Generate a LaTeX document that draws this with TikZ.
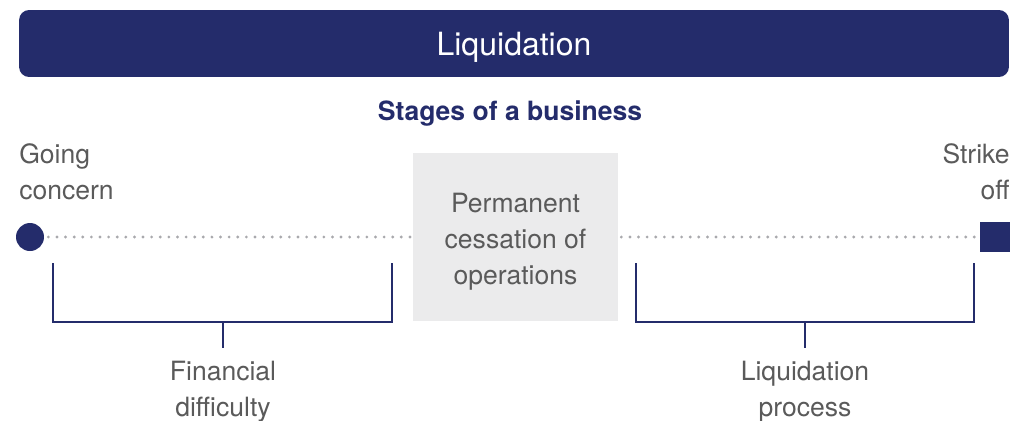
\documentclass[tikz,border=0pt]{standalone}
\usepackage{fontspec}
\setmainfont{TeX Gyre Heros}
\usetikzlibrary{positioning}
\definecolor{navy}{HTML}{242C6B}
\definecolor{txtgray}{HTML}{5A5A5A}
\definecolor{dotgray}{HTML}{A9A9AD}
\definecolor{boxgray}{HTML}{EBEBEC}
\begin{document}
\begin{tikzpicture}[x=0.02cm,y=-0.02cm,
  lbl/.style={text=txtgray,font=\fontsize{15.1}{20.5}\selectfont,inner sep=0pt},
  dots/.style={dotgray,line width=1.8pt,line cap=round,dash pattern=on 0pt off 4.9pt},
  bracket/.style={navy,line width=1.6pt}]
  \useasboundingbox (0,0) rectangle (1029,420);
  \node (title) at (514,43.5) [fill=navy,rounded corners=0.2cm,minimum width=19.8cm,minimum height=1.34cm,text depth=0pt,text=white,font=\fontsize{18.2}{22}\selectfont] {Liquidation};
  \node (stages) at (510,114) [text=navy,font=\fontsize{15.1}{18}\selectfont\bfseries,inner sep=0pt] {Stages of a business};
  \node (start) at (30,237) [fill=navy,circle,minimum size=0.56cm,inner sep=0pt] {};
  \node (end) at (995,237) [fill=navy,minimum size=0.6cm,inner sep=0pt] {};
  \node (perm) at (515.5,237) [fill=boxgray,minimum width=4.1cm,minimum height=3.38cm] {};
  \node (permtext) at (515.5,242) [lbl,align=center] {Permanent\\cessation of\\operations};
  \node (going) at (19,172) [lbl,anchor=west,align=left] {Going\\concern};
  \node (strike) at (1010,172) [lbl,anchor=east,align=right] {Strike\\off};
  \node (fin) at (223,392) [lbl,align=center] {Financial\\difficulty};
  \node (liq) at (805,392) [lbl,align=center] {Liquidation\\process};
  \draw[dots,shorten <=0.08cm] (start) -- (perm);
  \draw[dots,shorten <=0.06cm,shorten >=0.06cm] (perm) -- (end);
  \coordinate (fa) at (53,263);
  \coordinate (fb) at (392,263);
  \coordinate (fm) at (223,322);
  \coordinate (la) at (636,263);
  \coordinate (lb) at (974,263);
  \coordinate (lm) at (805,322);
  \draw[bracket] (fa) -- ++(0,59) -| (fb);
  \draw[bracket] (la) -- ++(0,59) -| (lb);
  \draw[bracket,shorten >=0.26cm] (fm) -- (fm |- fin.north);
  \draw[bracket,shorten >=0.26cm] (lm) -- (lm |- liq.north);
\end{tikzpicture}
\end{document}
